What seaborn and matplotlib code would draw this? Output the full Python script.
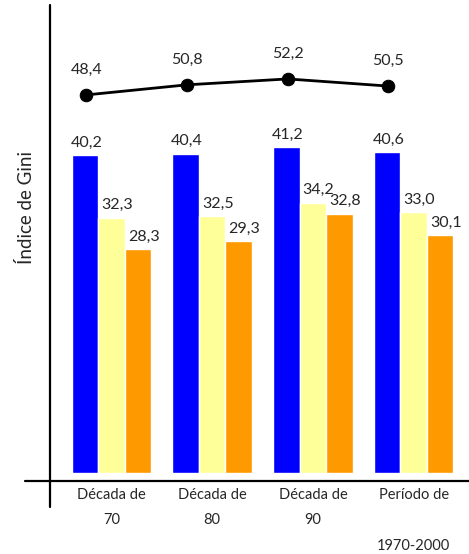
import matplotlib
matplotlib.use("Agg")
import matplotlib.pyplot as plt
from matplotlib.lines import Line2D
import pandas as pd
import seaborn as sns

# === Data ===
periods = ["Década de\n70", "Década de\n80", "Década de\n90", "Período de\n\n1970-2000"]
series = ["Série 1", "Série 2", "Série 3"]
serie1 = [40.2, 40.4, 41.2, 40.6]
serie2 = [32.3, 32.5, 34.2, 33.0]
serie3 = [28.3, 29.3, 32.8, 30.1]
line_vals = [48.4, 50.8, 52.2, 50.5]
colors = ["#0000FF", "#FFFF99", "#FF9900"]

df = pd.DataFrame({
    "periodo": periods * 3,
    "serie": [s for s in series for _ in periods],
    "gini": serie1 + serie2 + serie3,
})

sns.set_theme(style="white")
plt.rcParams["font.family"] = ["Lato", "DejaVu Sans"]

W, H = 469, 554
fig = plt.figure(figsize=(W / 100, H / 100), dpi=100)
ax = fig.add_axes([50 / W, 1 - 481 / H, (W - 50) / W, (481 - 5) / H])


def fmt(v):
    return f"{v:.1f}".replace(".", ",")


# === Bars ===
sns.barplot(data=df, x="periodo", y="gini", hue="serie", palette=colors,
            width=0.79, saturation=1, legend=False, ax=ax)
x_shift = [1, 4, 4]  # labels sit a little right of the bar centre
for cont, vals, dx in zip(ax.containers, [serie1, serie2, serie3], x_shift):
    for bar, v in zip(cont, vals):
        ax.annotate(fmt(v), (bar.get_x() + bar.get_width() / 2, bar.get_height()),
                    xytext=(dx, 4), textcoords="offset points",
                    ha="center", va="bottom", fontsize=11.5)

ax.set_xlim(-0.61, 3.55)
ax.set_ylim(-1, 59.2)
ax.set_yticks([])
ax.set_xlabel("")
ax.set_ylabel("Índice de Gini", fontsize=13.5)
ax.yaxis.set_label_coords(-15 / 419, 0.575)
ax.tick_params(axis="x", length=0, pad=5, labelsize=10.5)
for lab in ax.get_xticklabels():
    lab.set_linespacing(2.05)
for sp in ax.spines.values():
    sp.set_visible(False)

# === Line (secondary scale) ===
ax2 = ax.twinx()
xpos = [i - 0.25 for i in range(len(line_vals))]
sns.lineplot(x=xpos, y=line_vals, ax=ax2, color="black", marker="o",
             markersize=9, markeredgecolor="black", linewidth=2)
for x, v in zip(xpos, line_vals):
    ax2.annotate(fmt(v), (x, v), xytext=(0, 13), textcoords="offset points",
                 ha="center", va="bottom", fontsize=11.5)
ax2.set_ylim(-43.5, 69.8)
ax2.set_yticks([])
ax2.set_xlim(-0.61, 3.55)
for sp in ax2.spines.values():
    sp.set_visible(False)

# === Axis lines ===
fig.add_artist(Line2D([50 / W, 50 / W], [1 - 5 / H, 1 - 507 / H], color="black", lw=1.6))
fig.add_artist(Line2D([25 / W, 1], [1 - 481 / H, 1 - 481 / H], color="black", lw=1.6))

fig.savefig("out.png", dpi=100)
